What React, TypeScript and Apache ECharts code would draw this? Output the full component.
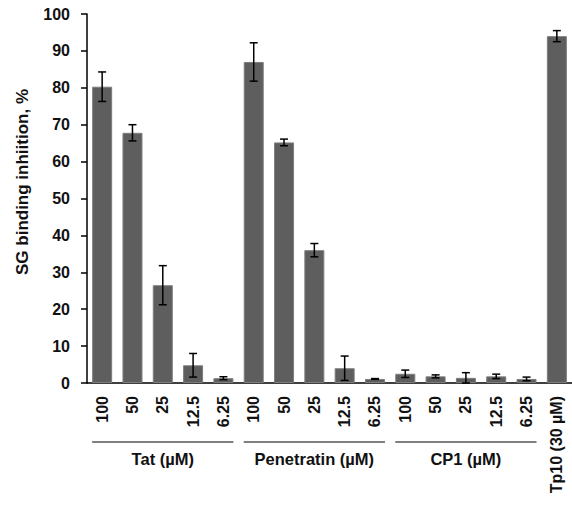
import React, { useEffect, useRef } from "react";
import * as echarts from "echarts";

const categories = [
  "100", "50", "25", "12.5", "6.25",
  "100", "50", "25", "12.5", "6.25",
  "100", "50", "25", "12.5", "6.25",
  "Tp10 (30 µM)",
];
const values = [80.3, 67.8, 26.5, 4.8, 1.3, 87.0, 65.2, 36.0, 4.0, 1.1, 2.5, 1.8, 1.4, 1.8, 1.1, 94.0];
const errors = [4.0, 2.2, 5.3, 3.2, 0.4, 5.2, 0.9, 1.8, 3.3, 0.1, 1.0, 0.4, 1.4, 0.6, 0.5, 1.5];
const groupLabels = ["Tat (µM)", "Penetratin (µM)", "CP1 (µM)"];
const groupStart = [0, 5, 10];
const groupEnd = [4, 9, 14];
const yTicks = { min: 0, max: 100, interval: 10 };
const yName = "SG binding inhiition, %";

const FONT = "Liberation Sans, Arial, sans-serif";
const TXT = "#111111";
const BAR_W = 20;

export default function App() {
  const ref = useRef<HTMLDivElement>(null);
  useEffect(() => {
    if (!ref.current) return;
    const chart = echarts.init(ref.current, undefined, { renderer: "svg" });
    chart.setOption({
      animation: false,
      grid: { left: 87, top: 14, width: 488, height: 369 },
      xAxis: {
        type: "category",
        data: categories,
        axisLine: { lineStyle: { color: "#000", width: 1.5 } },
        axisTick: { show: false },
        axisLabel: {
          rotate: 90,
          interval: 0,
          margin: 13,
          color: TXT,
          fontFamily: FONT,
          fontWeight: "bold",
          fontSize: 16,
        },
      },
      yAxis: {
        type: "value",
        min: yTicks.min,
        max: yTicks.max,
        interval: yTicks.interval,
        splitLine: { show: false },
        axisLine: { show: true, lineStyle: { color: "#000", width: 1.5 } },
        axisTick: { show: true, inside: false, length: 6, lineStyle: { color: "#000", width: 1.5 } },
        axisLabel: {
          margin: 17,
          color: TXT,
          fontFamily: FONT,
          fontWeight: "bold",
          fontSize: 16,
        },
      },
      series: [
        {
          type: "bar",
          data: values,
          barWidth: BAR_W,
          itemStyle: { color: "#5e5e5e", borderColor: "#7d7d7d", borderWidth: 1 },
        },
        {
          type: "custom",
          data: values.map((v, i) => [i, v - errors[i], v + errors[i]]),
          renderItem: (params: any, api: any) => {
            const i = api.value(0);
            const lo = api.coord([i, api.value(1)]);
            const hi = api.coord([i, api.value(2)]);
            const x = lo[0];
            const cap = 4;
            const style = { stroke: "#000", lineWidth: 1.5 };
            return {
              type: "group",
              children: [
                { type: "line", shape: { x1: x, y1: lo[1], x2: x, y2: hi[1] }, style },
                { type: "line", shape: { x1: x - cap, y1: lo[1], x2: x + cap, y2: lo[1] }, style },
                { type: "line", shape: { x1: x - cap, y1: hi[1], x2: x + cap, y2: hi[1] }, style },
              ],
            };
          },
          z: 5,
        },
      ],
    });

    const lineY = 442;
    const labelY = 459;
    const graphics: any[] = [];
    groupLabels.forEach((lab, g) => {
      const x1 = (chart.convertToPixel({ xAxisIndex: 0 }, groupStart[g]) as number) - BAR_W / 2;
      const x2 = (chart.convertToPixel({ xAxisIndex: 0 }, groupEnd[g]) as number) + BAR_W / 2;
      graphics.push({
        type: "line",
        shape: { x1, y1: lineY, x2, y2: lineY },
        style: { stroke: "#000", lineWidth: 1.2 },
      });
      graphics.push({
        type: "text",
        x: (x1 + x2) / 2,
        y: labelY,
        style: {
          text: lab,
          align: "center",
          verticalAlign: "middle",
          fill: TXT,
          font: `bold 16.5px ${FONT}`,
        },
      });
    });
    graphics.push({
      type: "text",
      x: 22,
      y: 182,
      rotation: Math.PI / 2,
      style: {
        text: yName,
        align: "center",
        verticalAlign: "middle",
        fill: TXT,
        font: `bold 17px ${FONT}`,
      },
    });
    chart.setOption({ graphic: graphics });

    return () => chart.dispose();
  }, []);
  return <div ref={ref} style={{ width: 572, height: 512, position: "absolute", left: 0, top: 0 }} />;
}
